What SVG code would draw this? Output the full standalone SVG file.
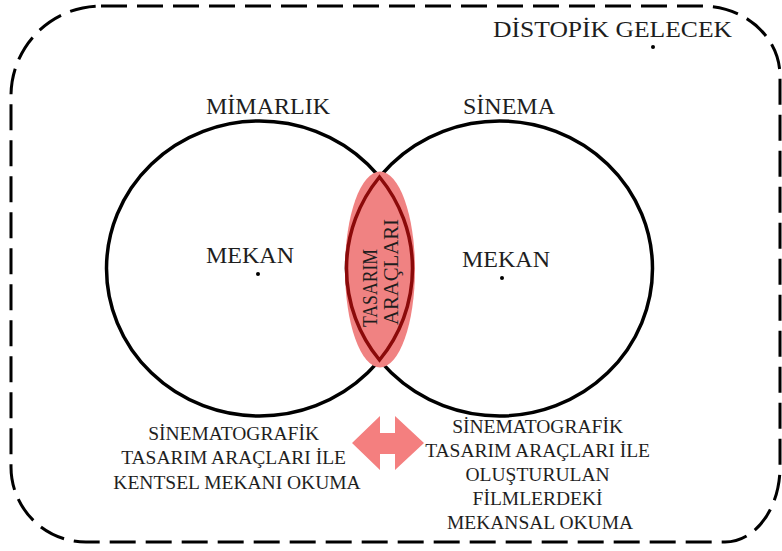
<svg xmlns="http://www.w3.org/2000/svg" width="782" height="551" viewBox="0 0 782 551">
  <style>
    .t { font-family: "Liberation Serif", "Times New Roman", serif; fill: #1e1e1e; }
    .big { font-size: 24px; }
    .small { font-size: 19.5px; }
    .circle { fill: none; stroke: #000; stroke-width: 3.5; }
    .frame { fill: none; stroke: #000; stroke-width: 3; stroke-dasharray: 26 10; }
    .dot { fill: #000; }
  </style>
  <rect width="782" height="551" fill="#fff"/>

  <g id="distopik-gelecek">
    <path class="frame" d="M101,6 H702 A78,70 0 0 1 780,76 V467 A55,75 0 0 1 725,542 H86 A75,75 0 0 1 11,467 V96 A90,90 0 0 1 101,6 Z"/>
    <text class="t big" x="493" y="37" textLength="239" lengthAdjust="spacingAndGlyphs">DİSTOPİK GELECEK</text>
    <circle class="dot" cx="653" cy="47" r="2"/>
  </g>

  <g id="mimarlik">
    <ellipse class="circle" cx="259.5" cy="268.5" rx="153" ry="147.5"/>
    <text class="t big" x="268" y="114" text-anchor="middle">MİMARLIK</text>
    <text class="t big" x="250" y="263" text-anchor="middle">MEKAN</text>
    <circle class="dot" cx="258" cy="274" r="2"/>
  </g>

  <g id="sinema">
    <ellipse class="circle" cx="499.5" cy="268.5" rx="153" ry="147.5"/>
    <text class="t big" x="509" y="114" text-anchor="middle">SİNEMA</text>
    <text class="t big" x="506" y="267" text-anchor="middle">MEKAN</text>
    <circle class="dot" cx="502" cy="278" r="2"/>
  </g>

  <g id="tasarim-araclari">
    <ellipse cx="380" cy="269.5" rx="35" ry="98" fill="#f08282"/>
    <path d="M379.5,177 A153,147.5 0 0,1 379.5,360 A153,147.5 0 0,1 379.5,177 Z" fill="none" stroke="#8b0a0a" stroke-width="3.5"/>
    <g transform="translate(380,269) rotate(-90)">
      <text class="t" font-size="20" x="-58" y="-3" textLength="78" lengthAdjust="spacingAndGlyphs">TASARIM</text>
      <text class="t" font-size="20" x="-56" y="18" textLength="106" lengthAdjust="spacingAndGlyphs">ARAÇLARI</text>
    </g>
  </g>

  <g id="connectors">
    <path d="M352,443 L380,416 L380,433 L395,433 L395,416 L424,443 L395,470 L395,454 L380,454 L380,470 Z" fill="#f47f7f"/>
  </g>

  <g id="kentsel-okuma">
    <text class="t small" text-anchor="middle">
      <tspan x="236" y="440">SİNEMATOGRAFİK</tspan>
      <tspan x="236" y="464">TASARIM ARAÇLARI İLE</tspan>
      <tspan x="237" y="489">KENTSEL MEKANI  OKUMA</tspan>
    </text>
  </g>

  <g id="mekansal-okuma">
    <text class="t small" text-anchor="middle">
      <tspan x="540" y="433">SİNEMATOGRAFİK</tspan>
      <tspan x="540" y="457">TASARIM ARAÇLARI İLE</tspan>
      <tspan x="540" y="481">OLUŞTURULAN</tspan>
      <tspan x="540" y="505">FİLMLERDEKİ</tspan>
      <tspan x="540" y="529">MEKANSAL OKUMA</tspan>
    </text>
  </g>
</svg>
